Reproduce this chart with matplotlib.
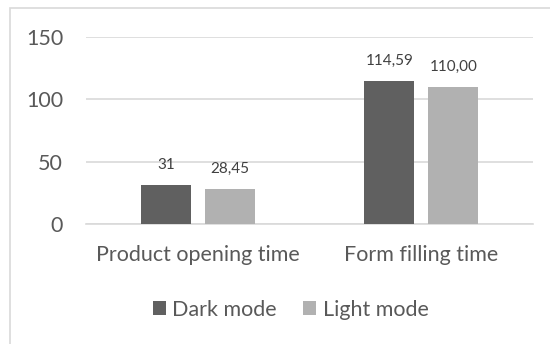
import matplotlib
matplotlib.use("Agg")
import matplotlib.pyplot as plt
from matplotlib.patches import Rectangle, Patch

categories = ["Product opening time", "Form filling time"]
series_names = ["Dark mode", "Light mode"]
dark_values = [31, 114.59]
light_values = [28.45, 110.00]
y_ticks = [0, 50, 100, 150]

colors = ["#606060", "#b1b1b1"]
text_color = "#595959"
grid_color = "#d9d9d9"

plt.rcParams["font.family"] = ["Lato", "DejaVu Sans"]

W, H = 550, 344
fig = plt.figure(figsize=(W / 100, H / 100), dpi=100)
ax = fig.add_axes([86 / W, 1 - 224 / H, (533 - 86) / W, (224 - 37) / H])

bar_w = 50 / 223.5
offset = (7 + 25) / 223.5
x = list(range(len(categories)))


def fmt_general(v):
    s = f"{v:g}"
    return s.replace(".", ",")


def fmt_fixed(v):
    return f"{v:.2f}".replace(".", ",")


formatters = [fmt_general, fmt_fixed]
for i, (vals, col, f) in enumerate(zip([dark_values, light_values], colors, formatters)):
    pos = [xi + (-offset if i == 0 else offset) for xi in x]
    bars = ax.bar(pos, vals, width=bar_w, color=col, zorder=3, label=series_names[i])
    for b, v in zip(bars, vals):
        ax.annotate(f(v), (b.get_x() + b.get_width() / 2, v),
                    xytext=(0, 11.5), textcoords="offset points",
                    ha="center", va="baseline", fontsize=11, color="#404040")

ax.set_xlim(-0.5, len(categories) - 0.5)
ax.set_ylim(0, 150)
ax.set_yticks(y_ticks)
ax.set_xticks(x)
ax.set_xticklabels(categories)
ax.tick_params(axis="y", length=0, pad=16.5, labelsize=15.5, labelcolor=text_color)
ax.tick_params(axis="x", length=0, pad=15, labelsize=15.5, labelcolor=text_color)
ax.grid(axis="y", color=grid_color, linewidth=1.2, zorder=0)
for s in ["top", "right", "left"]:
    ax.spines[s].set_visible(False)
ax.spines["bottom"].set_color(grid_color)
ax.spines["bottom"].set_linewidth(1.2)

handles = [Patch(facecolor=c, edgecolor="none") for c in colors]
leg = fig.legend(handles, series_names, loc="center",
                 bbox_to_anchor=(290.5 / W, 1 - 310 / H), ncol=2, frameon=False,
                 fontsize=15.5, handlelength=0.62, handleheight=0.62,
                 handletextpad=0.3, columnspacing=1.2, borderpad=0)
for t in leg.get_texts():
    t.set_color(text_color)

fig.patches.append(Rectangle((10 / W, -0.1), 1.2, 1 - 8 / H + 0.1,
                             transform=fig.transFigure, fill=False,
                             edgecolor=grid_color, linewidth=1.2))

fig.savefig("out.png", dpi=100, facecolor="white")
